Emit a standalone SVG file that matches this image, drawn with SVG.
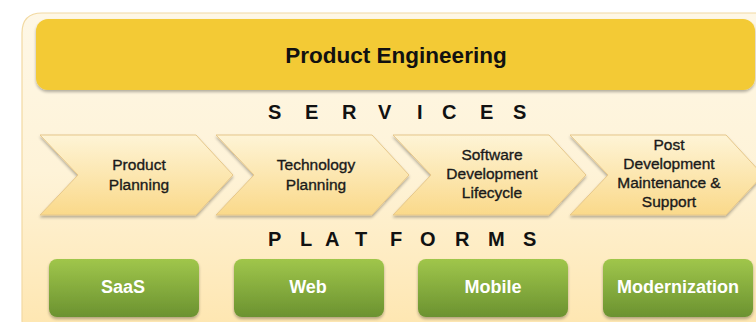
<svg xmlns="http://www.w3.org/2000/svg" width="756" height="322" viewBox="0 0 756 322">
  <defs>
    <linearGradient id="panelGrad" x1="0" y1="0" x2="0" y2="1">
      <stop offset="0" stop-color="#FEF7E6"/>
      <stop offset="0.5" stop-color="#FEF3D8"/>
      <stop offset="1" stop-color="#FEE6B0"/>
    </linearGradient>
    <linearGradient id="chevGrad" x1="0" y1="0" x2="0" y2="1">
      <stop offset="0" stop-color="#FEF4D6"/>
      <stop offset="1" stop-color="#FAD98A"/>
    </linearGradient>
    <linearGradient id="greenGrad" x1="0" y1="0" x2="0" y2="1">
      <stop offset="0" stop-color="#A0C64B"/>
      <stop offset="1" stop-color="#6B9230"/>
    </linearGradient>
    <filter id="shadow" x="-10%" y="-10%" width="120%" height="130%">
      <feGaussianBlur in="SourceAlpha" stdDeviation="1.5"/>
      <feOffset dx="0" dy="2" result="b"/>
      <feComponentTransfer><feFuncA type="linear" slope="0.3"/></feComponentTransfer>
      <feMerge><feMergeNode/><feMergeNode in="SourceGraphic"/></feMerge>
    </filter>
  </defs>
  <style>
    .panel { fill: url(#panelGrad); stroke: #F2D9A2; stroke-width: 1.2; }
    .banner { fill: #F3CA35; }
    .title { font-family: "Liberation Sans", Arial, sans-serif; font-weight: bold; font-size: 22.5px; fill: #111; text-anchor: middle; }
    .heading { font-family: "Liberation Sans", Arial, sans-serif; font-weight: bold; font-size: 20px; fill: #111; }
    .chev { fill: url(#chevGrad); stroke: #E6C78A; stroke-width: 1; }
    .chevText { font-family: "Liberation Sans", Arial, sans-serif; font-size: 15.5px; fill: #1a1a1a; stroke: #1a1a1a; stroke-width: 0.35; text-anchor: middle; }
    .btn { fill: url(#greenGrad); }
    .btnText { font-family: "Liberation Sans", Arial, sans-serif; font-weight: bold; font-size: 18px; fill: #fff; text-anchor: middle; }
  </style>

  <path class="panel" d="M22,320 L22,33 Q22,13 42,13 L760,13 L760,330 L30,330 Q22,330 22,320 Z"/>

  <g id="banner">
    <rect class="banner" x="36" y="19" width="719" height="71" rx="12" filter="url(#shadow)"/>
    <text class="title" x="396" y="63">Product Engineering</text>
  </g>

  <g id="services-heading">
    <text class="heading" x="268 305 342 378 417 442 480 513" y="119">SERVICES</text>
  </g>

  <g id="product-planning">
    <path class="chev" filter="url(#shadow)" d="M40,135 L196,135 L233,175 L196,215 L40,215 L78,175 Z"/>
    <text class="chevText" x="139" y="170">Product</text>
    <text class="chevText" x="139" y="190">Planning</text>
  </g>
  <g id="technology-planning">
    <path class="chev" filter="url(#shadow)" d="M216,135 L372,135 L409,175 L372,215 L216,215 L254,175 Z"/>
    <text class="chevText" x="316" y="170">Technology</text>
    <text class="chevText" x="316" y="190">Planning</text>
  </g>
  <g id="sdlc">
    <path class="chev" filter="url(#shadow)" d="M393,135 L549,135 L586,175 L549,215 L393,215 L431,175 Z"/>
    <text class="chevText" x="492" y="160">Software</text>
    <text class="chevText" x="492" y="179">Development</text>
    <text class="chevText" x="492" y="198">Lifecycle</text>
  </g>
  <g id="post-development">
    <path class="chev" filter="url(#shadow)" d="M570,135 L726,135 L763,175 L726,215 L570,215 L608,175 Z"/>
    <text class="chevText" x="669" y="150">Post</text>
    <text class="chevText" x="669" y="169">Development</text>
    <text class="chevText" x="669" y="188">Maintenance &amp;</text>
    <text class="chevText" x="669" y="207">Support</text>
  </g>

  <g id="platforms-heading">
    <text class="heading" x="268 300 325 355 390 420 455 488 523" y="246">PLATFORMS</text>
  </g>

  <g id="saas">
    <rect class="btn" x="49" y="259" width="150" height="58" rx="8" filter="url(#shadow)"/>
    <text class="btnText" x="123" y="293">SaaS</text>
  </g>
  <g id="web">
    <rect class="btn" x="234" y="259" width="150" height="58" rx="8" filter="url(#shadow)"/>
    <text class="btnText" x="308" y="293">Web</text>
  </g>
  <g id="mobile">
    <rect class="btn" x="418" y="259" width="150" height="58" rx="8" filter="url(#shadow)"/>
    <text class="btnText" x="493" y="293">Mobile</text>
  </g>
  <g id="modernization">
    <rect class="btn" x="603" y="259" width="150" height="58" rx="8" filter="url(#shadow)"/>
    <text class="btnText" x="678" y="293">Modernization</text>
  </g>

  <g id="connectors"></g>
</svg>
